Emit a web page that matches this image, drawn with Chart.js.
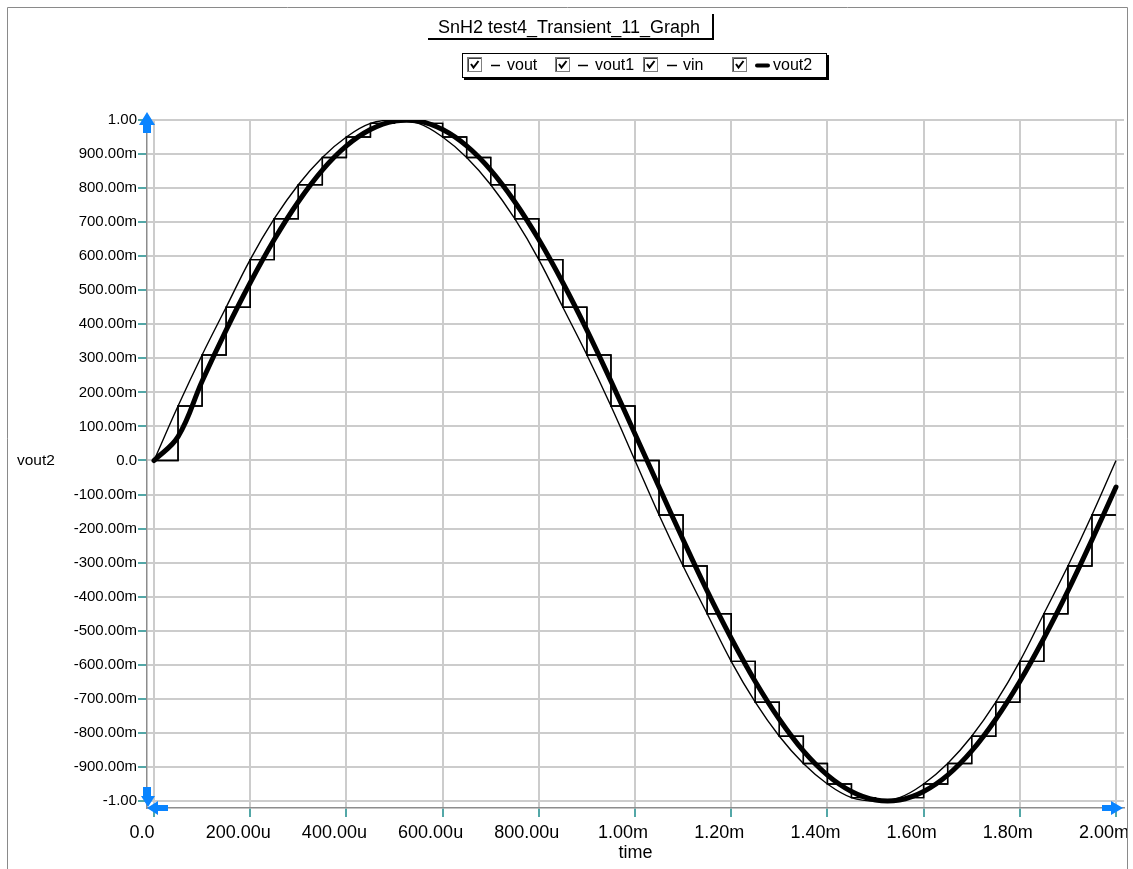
<!DOCTYPE html>
<html>
<head>
<meta charset="utf-8">
<title>SnH2 test4_Transient_11_Graph</title>
<script src="https://cdn.jsdelivr.net/npm/chart.js@4.4.1/dist/chart.umd.min.js"></script>
<style>
  html, body { margin: 0; padding: 0; background: #fff; }
  canvas { display: block; }
</style>
</head>
<body>
<canvas id="graph" width="1133" height="869"></canvas>
<script>
// time axis, in microseconds
const timeUs = [0, 50, 100, 150, 200, 250, 300, 350, 400, 450, 500, 550, 600, 650, 700, 750, 800, 850, 900, 950,
  1000, 1050, 1100, 1150, 1200, 1250, 1300, 1350, 1400, 1450, 1500, 1550, 1600, 1650, 1700, 1750, 1800, 1850, 1900, 1950, 2000];

// sampled & held outputs (staircase)
const voutValues = [0, 0.16, 0.31, 0.45, 0.59, 0.71, 0.81, 0.89, 0.95, 0.99, 1.00, 0.99, 0.95, 0.89, 0.81, 0.71, 0.59, 0.45, 0.31, 0.16,
  0, -0.16, -0.31, -0.45, -0.59, -0.71, -0.81, -0.89, -0.95, -0.99, -1.00, -0.99, -0.95, -0.89, -0.81, -0.71, -0.59, -0.45, -0.31, -0.16, -0.16];
const vout1Values = [0, 0.16, 0.31, 0.45, 0.59, 0.71, 0.81, 0.89, 0.95, 0.99, 1.00, 0.99, 0.95, 0.89, 0.81, 0.71, 0.59, 0.45, 0.31, 0.16,
  0, -0.16, -0.31, -0.45, -0.59, -0.71, -0.81, -0.89, -0.95, -0.99, -1.00, -0.99, -0.95, -0.89, -0.81, -0.71, -0.59, -0.45, -0.31, -0.16, -0.16];
// input
const vinValues = [0, 0.16, 0.31, 0.45, 0.59, 0.71, 0.81, 0.89, 0.95, 0.99, 1.00, 0.99, 0.95, 0.89, 0.81, 0.71, 0.59, 0.45, 0.31, 0.16,
  0, -0.16, -0.31, -0.45, -0.59, -0.71, -0.81, -0.89, -0.95, -0.99, -1.00, -0.99, -0.95, -0.89, -0.81, -0.71, -0.59, -0.45, -0.31, -0.16, 0];
// filtered output (thick)
const vout2Values = [0, 0.07, 0.233, 0.383, 0.522, 0.649, 0.76, 0.853, 0.924, 0.972, 0.997, 0.997, 0.972, 0.924, 0.853, 0.76, 0.649, 0.522, 0.383, 0.233,
  0.078, -0.078, -0.233, -0.383, -0.522, -0.649, -0.76, -0.853, -0.924, -0.972, -0.997, -0.997, -0.972, -0.924, -0.853, -0.76, -0.649, -0.522, -0.383, -0.233, -0.078];

const xTickValues = [0, 200, 400, 600, 800, 1000, 1200, 1400, 1600, 1800, 2000];
const xTickLabels = ['0.0', '200.00u', '400.00u', '600.00u', '800.00u', '1.00m', '1.20m', '1.40m', '1.60m', '1.80m', '2.00m'];
const yTickValues = [1, 0.9, 0.8, 0.7, 0.6, 0.5, 0.4, 0.3, 0.2, 0.1, 0, -0.1, -0.2, -0.3, -0.4, -0.5, -0.6, -0.7, -0.8, -0.9, -1];
const yTickLabels = ['1.00', '900.00m', '800.00m', '700.00m', '600.00m', '500.00m', '400.00m', '300.00m', '200.00m', '100.00m', '0.0',
  '-100.00m', '-200.00m', '-300.00m', '-400.00m', '-500.00m', '-600.00m', '-700.00m', '-800.00m', '-900.00m', '-1.00'];

const seriesNames = ['vout', 'vout1', 'vin', 'vout2'];
const chartTitle = 'SnH2 test4_Transient_11_Graph';
const yTitle = 'vout2';
const xTitle = 'time';

const FONT = '"Liberation Sans", Arial, sans-serif';
const toPoints = (vals) => timeUs.map((t, i) => ({ x: t, y: vals[i] }));

function poly(ctx, pts) {
  ctx.beginPath();
  pts.forEach(([x, y], i) => (i ? ctx.lineTo(x, y) : ctx.moveTo(x, y)));
  ctx.closePath();
  ctx.fill();
}

// title box, legend, blue axis arrows, frame, horizontal y title
const decorations = {
  id: 'decorations',
  afterDraw(chart) {
    const ctx = chart.ctx;
    ctx.save();

    // outer frame
    ctx.strokeStyle = '#8a8a8a';
    ctx.lineWidth = 1;
    ctx.beginPath();
    ctx.moveTo(7.5, 869); ctx.lineTo(7.5, 7.5); ctx.lineTo(1127.5, 7.5); ctx.lineTo(1127.5, 869);
    ctx.stroke();

    // title box
    ctx.fillStyle = '#fff';
    ctx.fillRect(428, 12, 285, 28);
    ctx.strokeStyle = '#000';
    ctx.lineWidth = 2;
    ctx.beginPath();
    ctx.moveTo(428, 39); ctx.lineTo(713, 39); ctx.lineTo(713, 14);
    ctx.stroke();
    ctx.fillStyle = '#000';
    ctx.font = '18px ' + FONT;
    ctx.textAlign = 'center';
    ctx.textBaseline = 'middle';
    ctx.fillText(chartTitle, 569, 28);

    // legend box
    ctx.fillStyle = '#fff';
    ctx.fillRect(462, 53, 365, 25);
    ctx.strokeStyle = '#000';
    ctx.lineWidth = 1;
    ctx.strokeRect(462.5, 53.5, 364, 24);
    ctx.lineWidth = 2;
    ctx.beginPath();
    ctx.moveTo(464, 79); ctx.lineTo(828, 79); ctx.lineTo(828, 55);
    ctx.stroke();

    const boxX = [467, 555, 643, 732];
    const lineX = [[491, 500], [578, 588], [667, 677], [757, 768]];
    const textX = [507, 595, 683, 773];
    const lineW = [1.5, 1.5, 1.5, 4];
    ctx.font = '16px ' + FONT;
    ctx.textAlign = 'left';
    seriesNames.forEach((name, i) => {
      const bx = boxX[i], by = 57;
      ctx.fillStyle = '#fff';
      ctx.fillRect(bx, by, 15, 15);
      ctx.strokeStyle = '#808080';
      ctx.lineWidth = 1;
      ctx.strokeRect(bx + 0.5, by + 0.5, 14, 14);
      ctx.strokeStyle = '#404040';
      ctx.beginPath();
      ctx.moveTo(bx + 1.5, by + 14); ctx.lineTo(bx + 1.5, by + 1.5); ctx.lineTo(bx + 14, by + 1.5);
      ctx.stroke();
      ctx.strokeStyle = '#000';
      ctx.lineWidth = 2;
      ctx.beginPath();
      ctx.moveTo(bx + 4, by + 7); ctx.lineTo(bx + 6.5, by + 10.5); ctx.lineTo(bx + 11.5, by + 4);
      ctx.stroke();
      ctx.lineWidth = lineW[i];
      ctx.lineCap = i === 3 ? 'round' : 'butt';
      ctx.beginPath();
      ctx.moveTo(lineX[i][0], 65.5); ctx.lineTo(lineX[i][1], 65.5);
      ctx.stroke();
      ctx.fillStyle = '#000';
      ctx.fillText(name, textX[i], 66);
    });

    // y title, horizontal
    ctx.font = '15.5px ' + FONT;
    ctx.textAlign = 'left';
    ctx.fillText(yTitle, 17, 461);

    // blue arrows on the axes
    ctx.fillStyle = '#0a84ff';
    poly(ctx, [[147, 112], [155, 125], [151, 125], [151, 133], [143, 133], [143, 125], [139, 125]]);
    poly(ctx, [[143, 787], [151, 787], [151, 796], [155, 796], [148, 807], [141, 796], [143, 796]]);
    poly(ctx, [[147, 808], [158, 801], [158, 805], [168, 805], [168, 811], [158, 811], [158, 815]]);
    poly(ctx, [[1123, 808], [1111, 801], [1111, 805], [1102, 805], [1102, 811], [1111, 811], [1111, 815]]);

    ctx.restore();
  }
};

new Chart(document.getElementById('graph'), {
  type: 'line',
  data: {
    datasets: [
      {
        label: seriesNames[0],
        data: toPoints(voutValues),
        borderColor: '#000',
        borderWidth: 1.4,
        stepped: true,
        pointRadius: 0,
        order: 1,
      },
      {
        label: seriesNames[1],
        data: toPoints(vout1Values),
        borderColor: '#000',
        borderWidth: 1.4,
        stepped: true,
        pointRadius: 0,
        order: 1,
      },
      {
        label: seriesNames[2],
        data: toPoints(vinValues),
        borderColor: '#000',
        borderWidth: 1.4,
        tension: 0.4,
        pointRadius: 0,
        order: 1,
      },
      {
        label: seriesNames[3],
        data: toPoints(vout2Values),
        borderColor: '#000',
        borderWidth: 5,
        borderCapStyle: 'round',
        borderJoinStyle: 'round',
        tension: 0.4,
        pointRadius: 0,
        order: 0,
      },
    ],
  },
  options: {
    responsive: false,
    animation: false,
    layout: { padding: { left: 0, top: 120, right: 9, bottom: 0 } },
    plugins: {
      legend: { display: false },
      title: { display: false },
      tooltip: { enabled: false },
    },
    scales: {
      x: {
        type: 'linear',
        min: -14.55,
        max: 2016.6,
        afterFit: (scale) => {
          scale.height = 61;
          scale.paddingLeft = 0;
          scale.paddingRight = 0;
        },
        afterBuildTicks: (scale) => { scale.ticks = xTickValues.map((v) => ({ value: v })); },
        grid: { color: '#cccccc', lineWidth: 2, tickColor: '#1a8a8a', tickWidth: 1.5, tickLength: 9 },
        border: { display: true, color: '#8c8c8c', width: 1.5 },
        ticks: {
          autoSkip: false,
          maxRotation: 0,
          padding: 5,
          labelOffset: -12,
          color: '#000',
          font: { family: FONT, size: 18 },
          callback: (value, index) => xTickLabels[index],
        },
        title: {
          display: true,
          text: xTitle,
          color: '#000',
          font: { family: FONT, size: 18 },
          padding: { top: 0, bottom: 5 },
        },
      },
      y: {
        type: 'linear',
        min: -1.0206,
        max: 1,
        afterFit: (scale) => {
          scale.width = 147;
          scale.paddingTop = 0;
          scale.paddingBottom = 0;
        },
        afterBuildTicks: (scale) => { scale.ticks = yTickValues.map((v) => ({ value: v })); },
        grid: { color: '#cccccc', lineWidth: 2, tickColor: '#1a8a8a', tickWidth: 1.5, tickLength: 9 },
        border: { display: true, color: '#8c8c8c', width: 1.5 },
        ticks: {
          autoSkip: false,
          padding: 1,
          color: '#000',
          font: { family: FONT, size: 15 },
          callback: (value, index) => yTickLabels[index],
        },
      },
    },
  },
  plugins: [decorations],
});
</script>
</body>
</html>
